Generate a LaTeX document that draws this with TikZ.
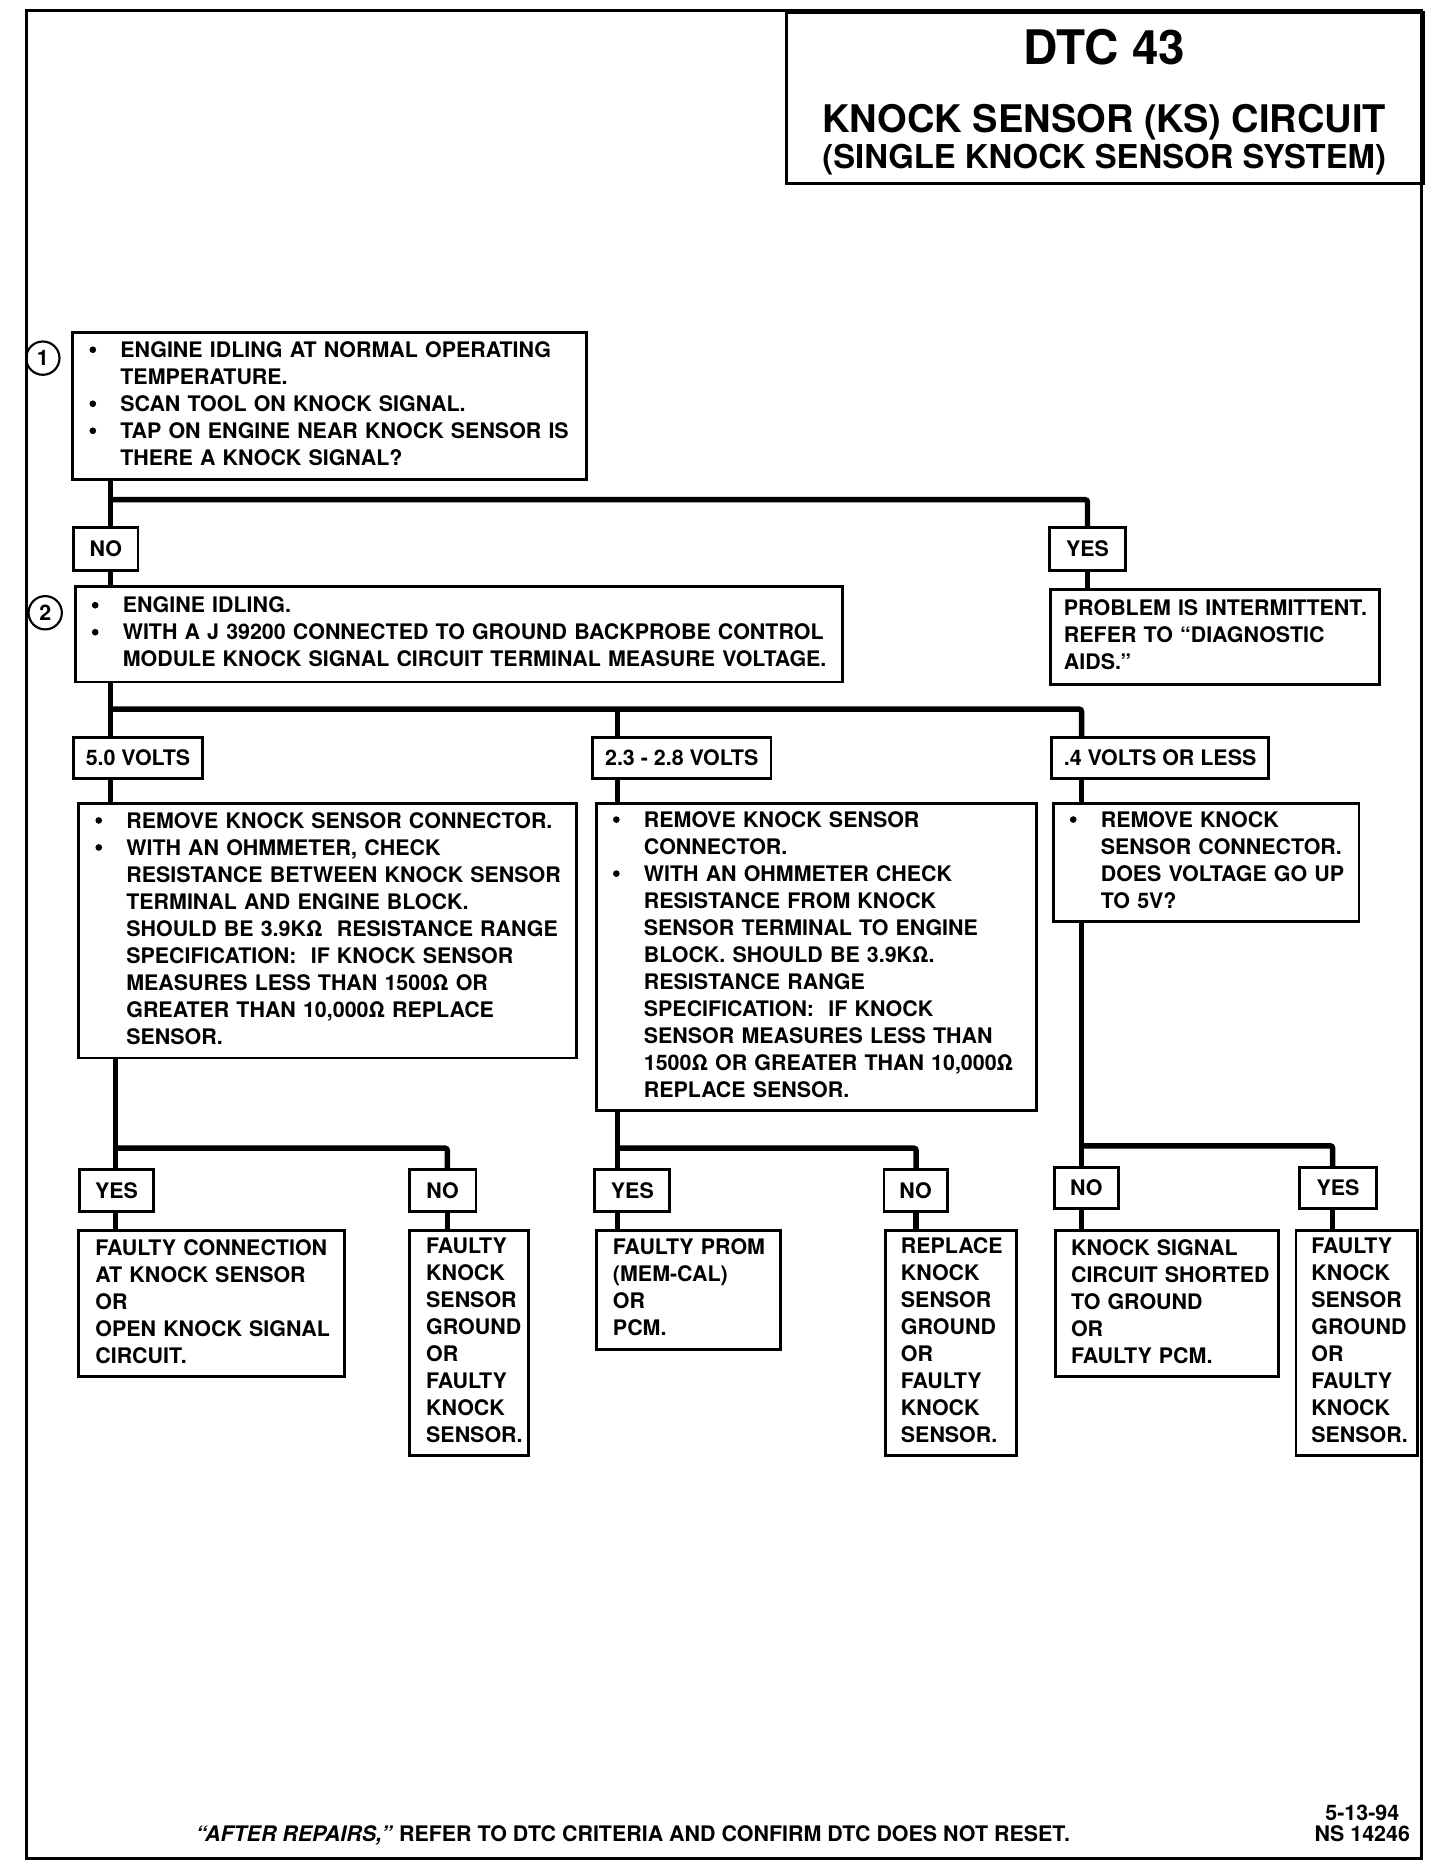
\documentclass[tikz,border=0pt]{standalone}
\usepackage{fontspec}
\setmainfont{TeX Gyre Heros}
\usepackage{tikz}
\usetikzlibrary{positioning}
\tikzset{
    frame/.style={draw, line width=1.25pt},
    box/.style={
        draw,
        line width=1.2pt,
        anchor=north west,
        inner xsep=7pt,
        inner ysep=0pt,
        align=left
    },
    tag/.style={
        draw,
        line width=1.2pt,
        inner sep=0pt,
        minimum height=18pt
    },
    stepnum/.style={
        draw,
        circle,
        line width=0.9pt,
        minimum size=14pt,
        inner sep=0pt
    },
    link/.style={line width=2.3pt, rounded corners=1pt}
}
\tikzset{
  every node/.style={font=\fontsize{9}{11.35}\selectfont\bfseries}
}
\newcommand{\dotmark}{\tikz[baseline=0pt]\fill (1.6pt,3.2pt) circle[radius=1.4pt];}
\newcommand{\bulletlist}[1]{\begin{tabular}{@{}p{13pt}@{}l@{}}#1\end{tabular}}
\newcommand{\textlines}[1]{\begin{tabular}{@{}l@{}}#1\end{tabular}}

\begin{document}
\begin{tikzpicture}[x=0.5pt, y=-0.5pt]
    \useasboundingbox (0,0) rectangle (1210,1570);
    \draw[frame] (22,9) rectangle (1195,1562);

    % title block
    \node[frame, anchor=north west, minimum width=267.5pt, minimum height=72pt] (title) at (660,9) {};
    \node[anchor=base, font=\fontsize{20}{24}\selectfont\bfseries] (dtc) at (928,54) {DTC 43};
    \node[anchor=base, font=\fontsize{16}{19}\selectfont\bfseries] (circuit) at (928,111.5) {KNOCK SENSOR (KS) CIRCUIT};
    \node[anchor=base, font=\fontsize{13.8}{16}\selectfont\bfseries] (system) at (928,142) {(SINGLE KNOCK SENSOR SYSTEM)};

    % step 1
    \node[stepnum] (n1) at (36,301) {1};
    \node[box, text width=202pt, minimum height=62pt] (check1) at (60,278) {\bulletlist{%
        \dotmark & ENGINE IDLING AT NORMAL OPERATING\\
        & TEMPERATURE.\\
        \dotmark & SCAN TOOL ON KNOCK SIGNAL.\\
        \dotmark & TAP ON ENGINE NEAR KNOCK SENSOR IS\\
        & THERE A KNOCK SIGNAL?}};
    \node[tag, minimum width=27pt] (no1) at (89,461.5) {NO};
    \node[tag, minimum width=32pt] (yes1) at (914,461.5) {YES};
    \node[box, inner xsep=5.5pt, text width=127pt, minimum height=40pt] (intermittent) at (882,494) {\textlines{%
        PROBLEM IS INTERMITTENT.\\
        REFER TO “DIAGNOSTIC\\
        AIDS.”}};

    % step 2
    \node[stepnum] (n2) at (38,515) {2};
    \node[box, text width=308.5pt, minimum height=40pt] (check2) at (62,492) {\bulletlist{%
        \dotmark & ENGINE IDLING.\\
        \dotmark & WITH A J 39200 CONNECTED TO GROUND BACKPROBE CONTROL\\
        & MODULE KNOCK SIGNAL CIRCUIT TERMINAL MEASURE VOLTAGE.}};

    \node[tag, minimum width=54pt, minimum height=17pt] (volt5) at (116,637) {5.0 VOLTS};
    \node[tag, minimum width=75pt, minimum height=17pt] (volt23) at (573,637) {2.3 - 2.8 VOLTS};
    \node[tag, minimum width=91pt, minimum height=17pt] (volt04) at (975,637) {.4 VOLTS OR LESS};

    \node[box, text width=195pt, minimum height=107pt] (testA) at (65,674) {\bulletlist{%
        \dotmark & REMOVE KNOCK SENSOR CONNECTOR.\\
        \dotmark & WITH AN OHMMETER, CHECK\\
        & RESISTANCE BETWEEN KNOCK SENSOR\\
        & TERMINAL AND ENGINE BLOCK.\\
        & SHOULD BE 3.9KΩ\ \ RESISTANCE RANGE\\
        & SPECIFICATION:\ \ IF KNOCK SENSOR\\
        & MEASURES LESS THAN 1500Ω OR\\
        & GREATER THAN 10,000Ω REPLACE\\
        & SENSOR.}};
    \node[box, text width=171pt, minimum height=129pt] (testB) at (500,674) {\bulletlist{%
        \dotmark & REMOVE KNOCK SENSOR\\
        & CONNECTOR.\\
        \dotmark & WITH AN OHMMETER CHECK\\
        & RESISTANCE FROM KNOCK\\
        & SENSOR TERMINAL TO ENGINE\\
        & BLOCK. SHOULD BE 3.9KΩ.\\
        & RESISTANCE RANGE\\
        & SPECIFICATION:\ \ IF KNOCK\\
        & SENSOR MEASURES LESS THAN\\
        & 1500Ω OR GREATER THAN 10,000Ω\\
        & REPLACE SENSOR.}};
    \node[box, text width=114.5pt, minimum height=49.5pt] (testC) at (884,674) {\bulletlist{%
        \dotmark & REMOVE KNOCK\\
        & SENSOR CONNECTOR.\\
        & DOES VOLTAGE GO UP\\
        & TO 5V?}};

    % answers
    \node[tag, minimum width=31pt, minimum height=17.5pt] (yesA) at (98,1000.5) {YES};
    \node[tag, minimum width=28pt, minimum height=17.5pt] (noA) at (372,1000.5) {NO};
    \node[tag, minimum width=31.5pt, minimum height=17.5pt] (yesB) at (531.5,1000.5) {YES};
    \node[tag, minimum width=26.5pt, minimum height=17.5pt] (noB) at (769.5,1000.5) {NO};
    \node[tag, minimum width=27pt, minimum height=17.5pt] (noC) at (913,998.5) {NO};
    \node[tag, minimum width=32.5pt, minimum height=17.5pt] (yesC) at (1124.5,998.5) {YES};

    \node[box, text width=97.5pt, minimum height=61.5pt] (resA1) at (65,1033) {\textlines{%
        FAULTY CONNECTION\\ AT KNOCK SENSOR\\ OR\\ OPEN KNOCK SIGNAL\\ CIRCUIT.}};
    \node[box, text width=36pt, minimum height=94.5pt] (resA2) at (343,1033) {\textlines{%
        FAULTY\\ KNOCK\\ SENSOR\\ GROUND\\ OR\\ FAULTY\\ KNOCK\\ SENSOR.}};
    \node[box, text width=63.5pt, minimum height=50pt] (resB1) at (500,1033) {\textlines{%
        FAULTY PROM\\ (MEM-CAL)\\ OR\\ PCM.}};
    \node[box, inner xsep=6.5pt, text width=42pt, minimum height=94.5pt] (resB2) at (743,1033) {\textlines{%
        REPLACE\\ KNOCK\\ SENSOR\\ GROUND\\ OR\\ FAULTY\\ KNOCK\\ SENSOR.}};
    \node[box, inner xsep=6.5pt, text width=80.5pt, minimum height=61.5pt] (resC1) at (886,1033) {\textlines{%
        KNOCK SIGNAL\\ CIRCUIT SHORTED\\ TO GROUND\\ OR\\ FAULTY PCM.}};
    \node[box, inner xsep=6.5pt, text width=38pt, minimum height=94.5pt] (resC2) at (1088,1033) {\textlines{%
        FAULTY\\ KNOCK\\ SENSOR\\ GROUND\\ OR\\ FAULTY\\ KNOCK\\ SENSOR.}};

    % footer
    \node[anchor=base] (note) at (532,1547.5) {\textit{“AFTER REPAIRS,”} REFER TO DTC CRITERIA AND CONFIRM DTC DOES NOT RESET.};
    \node[align=center, font=\fontsize{9}{8.5}\selectfont\bfseries] (ref) at (1145,1532.5) {5-13-94\\NS 14246};

    % connectors
    \coordinate (j1) at (93,420);
    \draw[link] (check1.south -| j1) -- (j1) -- (no1.north -| j1);
    \draw[link] (j1) -| (yes1.north);
    \draw[link] (no1.south -| j1) -- (check2.north -| j1);
    \draw[link] (yes1.south) -- (intermittent.north -| yes1.south);

    \coordinate (j2) at (93,596);
    \coordinate (j2b) at (519,596);
    \coordinate (j2c) at (909,596);
    \draw[link] (check2.south -| j2) -- (j2) -- (volt5.north -| j2);
    \draw[link] (j2) -- (j2c) -- (volt04.north -| j2c);
    \draw[link] (j2b) -- (volt23.north -| j2b);
    \draw[link] (volt5.south -| j2) -- (testA.north -| j2);
    \draw[link] (volt23.south -| j2b) -- (testB.north -| j2b);
    \draw[link] (volt04.south -| j2c) -- (testC.north -| j2c);

    \coordinate (jA) at (97,965);
    \coordinate (jA2) at (376,965);
    \draw[link] (testA.south -| jA) -- (jA) -- (yesA.north -| jA);
    \draw[link] (jA) -- (jA2) -- (noA.north -| jA2);
    \draw[link] (yesA.south -| jA) -- (resA1.north -| jA);
    \draw[link] (noA.south -| jA2) -- (resA2.north -| jA2);

    \coordinate (jB) at (519,965);
    \coordinate (jB2) at (770,965);
    \draw[link] (testB.south -| jB) -- (jB) -- (yesB.north -| jB);
    \draw[link] (jB) -- (jB2) -- (noB.north -| jB2);
    \draw[link] (yesB.south -| jB) -- (resB1.north -| jB);
    \draw[link] (noB.south -| jB2) -- (resB2.north -| jB2);

    \coordinate (jC) at (909,963);
    \coordinate (jC2) at (1120,963);
    \draw[link] (testC.south -| jC) -- (jC) -- (noC.north -| jC);
    \draw[link] (jC) -- (jC2) -- (yesC.north -| jC2);
    \draw[link] (noC.south -| jC) -- (resC1.north -| jC);
    \draw[link] (yesC.south -| jC2) -- (resC2.north -| jC2);
\end{tikzpicture}
\end{document}
